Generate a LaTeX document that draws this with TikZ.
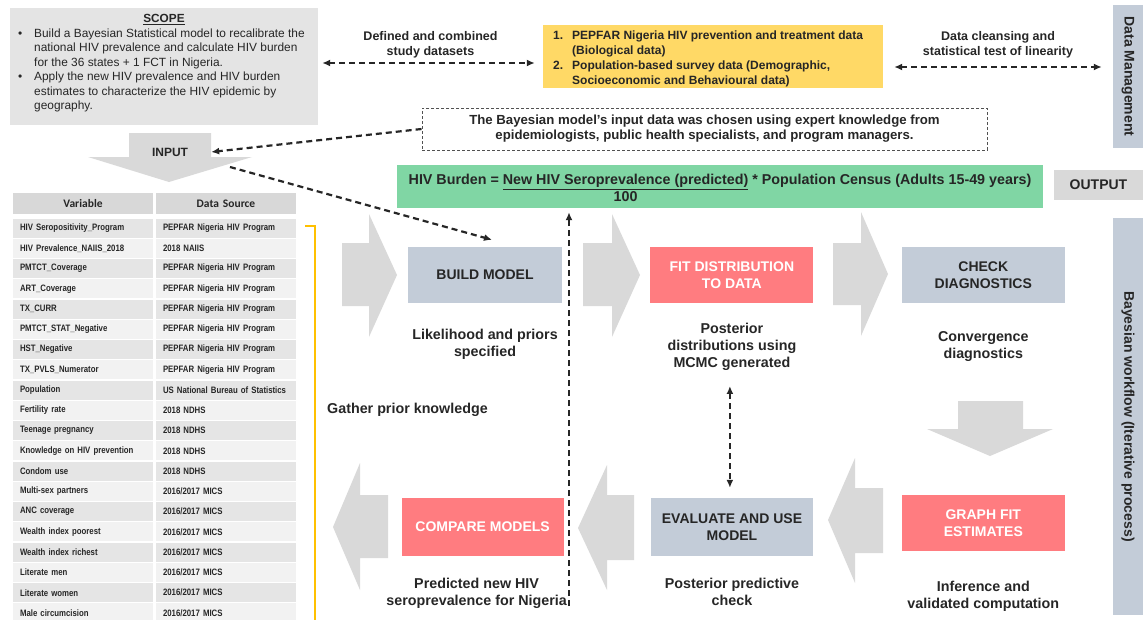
\documentclass[tikz,border=0pt]{standalone}
\usepackage{fontspec}
\setmainfont{Liberation Sans}
\newfontfamily\tablefont[FakeStretch=0.84]{Liberation Sans}
\newfontfamily\headfont{Carlito}
\usetikzlibrary{positioning,arrows.meta,calc}
\definecolor{InkGray}{RGB}{38,38,38}
\definecolor{ScopeGray}{RGB}{228,228,228}
\definecolor{BlockGray}{RGB}{217,217,217}
\definecolor{HeadGray}{RGB}{216,216,216}
\definecolor{RowDark}{RGB}{229,229,229}
\definecolor{RowLight}{RGB}{242,242,242}
\definecolor{DataYellow}{RGB}{255,217,102}
\definecolor{BurdenGreen}{RGB}{128,214,164}
\definecolor{SlateBlue}{RGB}{195,204,216}
\definecolor{Salmon}{RGB}{255,124,128}
\definecolor{BracketGold}{RGB}{255,192,0}

\begin{document}
\begin{tikzpicture}[
    x=1pt, y=-1pt,
    node distance=88pt,
    every node/.style={text=InkGray},
    hdr/.style={font=\bfseries\fontsize{14}{17}\selectfont},
    greybox/.style={fill=SlateBlue, minimum width=163pt, minimum height=56pt, align=center, hdr},
    redbox/.style={fill=Salmon, minimum width=163pt, minimum height=56pt, align=center, text=white, hdr},
    caption/.style={align=center, inner sep=0pt, font=\bfseries\fontsize{14.3}{17}\selectfont},
    arrowlabel/.style={align=center, inner sep=0pt, font=\bfseries\fontsize{12.5}{15}\selectfont},
    sidebar/.style={fill=SlateBlue, minimum height=30pt, rotate=-90, hdr},
    varcell/.style={minimum width=140pt, minimum height=19pt, text width=126pt, inner xsep=7pt, inner ysep=0pt, align=left, font=\tablefont\bfseries\fontsize{9.3}{11}\selectfont},
    dasharrow/.style={draw=InkGray, line width=2.2pt, dash pattern=on 6pt off 4pt, -{Latex[length=8pt,width=7pt]}},
    dasharrows/.style={dasharrow, {Latex[length=8pt,width=7pt]}-{Latex[length=8pt,width=7pt]}},
  ]
    \useasboundingbox (0,0) rectangle (1146,619);

    % scope and data sources
    \node[fill=ScopeGray, minimum width=308pt, minimum height=117pt] (scope) at (164,66.5) {};
    \node[font=\bfseries\fontsize{11.8}{13}\selectfont] (scopetitle) at (164,19.5) {\underline{SCOPE}};
    \node[anchor=north west, inner sep=0pt, font=\fontsize{11.9}{14.5}\selectfont] (scopetext) at (18,27) {%
      \begin{tabular}{@{}p{16pt}@{}l@{}}
        \textbullet & Build a Bayesian Statistical model to recalibrate the\\
        & national HIV prevalence and calculate HIV burden\\
        & for the 36 states + 1 FCT in Nigeria.\\
        \textbullet & Apply the new HIV prevalence and HIV burden\\
        & estimates to characterize the HIV epidemic by\\
        & geography.
      \end{tabular}};

    \node[fill=DataYellow, minimum width=340pt, minimum height=63pt] (datasets) at (713,56.5) {};
    \node[anchor=north west, inner sep=0pt, font=\bfseries\fontsize{12}{15}\selectfont] (datalist) at (553,28.5) {%
      \begin{tabular}{@{}p{19pt}@{}l@{}}
        1. & PEPFAR Nigeria HIV prevention and treatment data\\
        & (Biological data)\\
        2. & Population-based survey data (Demographic,\\
        & Socioeconomic and Behavioural data)
      \end{tabular}};

    \node[sidebar, minimum width=143pt] (datamgmt) at (1128,76.5) {Data Management};
    \node[draw=InkGray!80, line width=0.9pt, dash pattern=on 3pt off 2pt, minimum width=565pt, minimum height=42pt, align=center, font=\bfseries\fontsize{13.2}{15}\selectfont] (expert) at (704.5,129) {The Bayesian model's input data was chosen using expert knowledge from\\epidemiologists, public health specialists, and program managers.};

    \node[fill=BurdenGreen, minimum width=646pt, minimum height=43pt] (burden) at (720,186.5) {};
    \node[font=\bfseries\fontsize{14.3}{17}\selectfont] (burdentext) at (720,189.5) {HIV Burden = \begin{tabular}[t]{@{}c@{}}\underline{New HIV Seroprevalence (predicted)}\\100\end{tabular} * Population Census (Adults 15-49 years)};
    \node[fill=BlockGray, minimum width=89pt, minimum height=30pt, hdr] (output) at (1098.5,185) {OUTPUT};
    \node[sidebar, minimum width=397pt] (workflow) at (1128,416.5) {Bayesian workflow (Iterative process)};

    % input arrow and table
    \fill[BlockGray] (129,133) -- (211,133) -- (211,157) -- (252,157) -- (169,182) -- (88,157) -- (129,157) -- cycle;
    \node[font=\bfseries\fontsize{12}{14}\selectfont, minimum width=82pt] (input) at (170,152) {INPUT};

    \node[varcell, fill=HeadGray, minimum height=21pt, align=center, font=\headfont\bfseries\fontsize{11.5}{13}\selectfont] (vhead) at (83,203.5) {Variable};
    \node[varcell, fill=HeadGray, minimum height=21pt, align=center, font=\headfont\bfseries\fontsize{11.5}{13}\selectfont] (shead) at (226,203.5) {Data Source};
    \foreach \var/\src [count=\i] in {
        HIV Seropositivity\_Program/PEPFAR Nigeria HIV Program,
        HIV Prevalence\_NAIIS\_2018/2018 NAIIS,
        PMTCT\_Coverage/PEPFAR Nigeria HIV Program,
        ART\_Coverage/PEPFAR Nigeria HIV Program,
        TX\_CURR/PEPFAR Nigeria HIV Program,
        PMTCT\_STAT\_Negative/PEPFAR Nigeria HIV Program,
        HST\_Negative/PEPFAR Nigeria HIV Program,
        TX\_PVLS\_Numerator/PEPFAR Nigeria HIV Program,
        Population/US National Bureau of Statistics,
        Fertility rate/2018 NDHS,
        Teenage pregnancy/2018 NDHS,
        Knowledge on HIV prevention/2018 NDHS,
        Condom use/2018 NDHS,
        Multi-sex partners/{2016/2017 MICS},
        ANC coverage/{2016/2017 MICS},
        Wealth index poorest/{2016/2017 MICS},
        Wealth index richest/{2016/2017 MICS},
        Literate men/{2016/2017 MICS},
        Literate women/{2016/2017 MICS},
        Male circumcision/{2016/2017 MICS}}{
      \ifodd\i \def\rowfill{RowDark}\else \def\rowfill{RowLight}\fi
      \node[varcell, fill=\rowfill] (v\i) at (83,{228+20.26*(\i-1)}) {\var};
      \node[varcell, fill=\rowfill] (s\i) at (226,{228+20.26*(\i-1)}) {\src};
    }
    \draw[BracketGold, line width=1.5pt] ([xshift=9pt,yshift=2pt]s1.east) -- ++(10,0) -- ++(0,395);

    % workflow block arrows
    \fill[BlockGray] (342,243) -- (369,243) -- (369,214) -- (397,275) -- (369,337) -- (369,306) -- (342,306) -- cycle;
    \fill[BlockGray] (583,243) -- (612,243) -- (612,214) -- (640,275) -- (612,337) -- (612,306) -- (583,306) -- cycle;
    \fill[BlockGray] (833,243) -- (861,243) -- (861,212) -- (888,274) -- (861,336) -- (861,305) -- (833,305) -- cycle;
    \fill[BlockGray] (958,401) -- (1023,401) -- (1023,429) -- (1053,429) -- (990,456) -- (927,429) -- (958,429) -- cycle;
    \fill[BlockGray] (883,488) -- (855,488) -- (855,458) -- (828,520) -- (855,583) -- (855,553) -- (883,553) -- cycle;
    \fill[BlockGray] (634,495) -- (607,495) -- (607,465) -- (578,528) -- (607,590) -- (607,560) -- (634,560) -- cycle;
    \fill[BlockGray] (388,495) -- (360,495) -- (360,463) -- (333,527) -- (360,590) -- (360,558) -- (388,558) -- cycle;

    \node[greybox, minimum width=154pt] (build) at (485,275) {BUILD MODEL};
    \node[redbox, right=of build] (fit) {FIT DISTRIBUTION\\TO DATA};
    \node[greybox, right=of fit] (diag) {CHECK\\DIAGNOSTICS};
    \node[redbox, below=192pt of diag] (graph) {GRAPH FIT\\ESTIMATES};
    \node[greybox, minimum width=162pt, minimum height=58pt] (eval) at (732,527) {EVALUATE AND USE\\MODEL};
    \node[redbox, minimum width=162pt, minimum height=58pt, left=87pt of eval] (compare) {COMPARE MODELS};

    \node[caption, below=26pt of build] (buildcap) {Likelihood and priors\\specified};
    \node[caption, below=20pt of fit] (fitcap) {Posterior\\distributions using\\MCMC generated};
    \node[caption, below=28pt of diag] (diagcap) {Convergence\\diagnostics};
    \node[caption, below=29pt of graph] (graphcap) {Inference and\\validated computation};
    \node[caption, below=22pt of eval] (evalcap) {Posterior predictive\\check};
    \node[caption, below=22pt of compare, xshift=-6pt] (comparecap) {Predicted new HIV\\seroprevalence for Nigeria};
    \node[caption, anchor=west] (gather) at (327,410) {Gather prior knowledge};

    % dashed connectors
    \draw[dasharrows, shorten <=4pt, shorten >=8pt] (scope.east |- 0,63) -- (datasets.west |- 0,63)
      node[arrowlabel, midway, above=4pt] {Defined and combined\\study datasets};
    \draw[dasharrows, shorten <=11pt, shorten >=11pt] (datasets.east |- 0,67) -- (datamgmt.south |- 0,67)
      node[arrowlabel, midway, above=8pt] {Data cleansing and\\statistical test of linearity};
    \draw[dasharrow] (expert.west) -- (input.east);
    \coordinate (inputtail) at (230,167);
    \draw[dasharrow] (inputtail) -- ([xshift=7pt,yshift=7pt]build.north);
    \coordinate (loopstart) at (569,606);
    \draw[dasharrow, shorten >=4pt] (loopstart) -- (loopstart |- burden.south);
    \draw[dasharrows, shorten <=15pt, shorten >=10pt] ([xshift=-2pt]fitcap.south) -- ([xshift=-2pt]fitcap.south |- eval.north);
  \end{tikzpicture}
\end{document}
